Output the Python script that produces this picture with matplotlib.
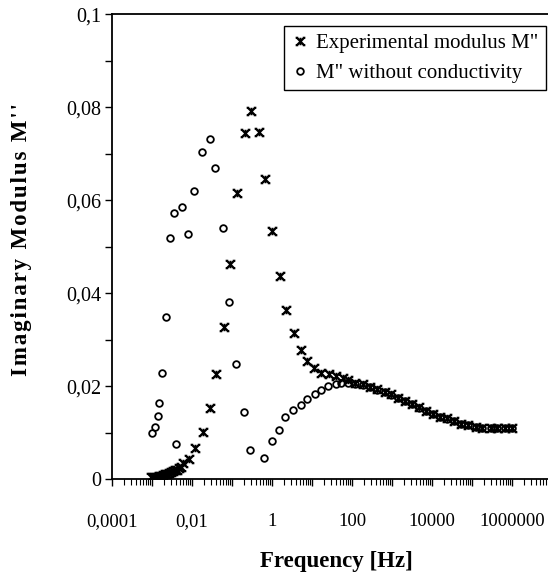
import numpy as np
import matplotlib.pyplot as plt
from matplotlib.path import Path
from matplotlib.ticker import MultipleLocator, LogLocator, FuncFormatter, NullFormatter

# data
# experimental modulus M''
exp_freq = [0.00094, 0.00105, 0.00118, 0.00132, 0.00148, 0.00166, 0.00186, 0.00209,
            0.00234, 0.00263, 0.00294, 0.0033, 0.0037, 0.00415, 0.00465, 0.0052, 0.0058,
            0.0084, 0.0121, 0.0186, 0.029, 0.040, 0.062, 0.089, 0.135, 0.214, 0.301,
            0.476, 0.670, 1.0, 1.58, 2.22, 3.5, 5.46, 7.5, 11.5, 17.1, 27, 40.3, 58.8,
            81.4, 119, 192, 281, 427, 663, 934, 1417, 2150, 3210, 4700, 7140, 10470,
            16250, 23700, 36150, 52700, 80500, 124000, 182000, 293000, 430000, 652000,
            1010000]
exp_mpp = [0.0004, 0.0005, 0.0006, 0.0006, 0.0008, 0.0008, 0.0009, 0.0011,
           0.0012, 0.0013, 0.0015, 0.0017, 0.0019, 0.0021, 0.0024, 0.0027, 0.0034,
           0.0044, 0.0068, 0.0101, 0.0153, 0.0226, 0.0327, 0.0464, 0.0616, 0.0745, 0.0792,
           0.0747, 0.0646, 0.0534, 0.0437, 0.0364, 0.0315, 0.0278, 0.0254, 0.0240, 0.0229,
           0.0226, 0.0223, 0.0217, 0.0214, 0.0208, 0.0204, 0.0199, 0.0194, 0.0188, 0.0183,
           0.0175, 0.0168, 0.0161, 0.0155, 0.0147, 0.0140, 0.0135, 0.0131, 0.0125, 0.0120,
           0.0117, 0.0113, 0.0111, 0.0111, 0.0111, 0.0111, 0.0111]

# M'' without conductivity
cond_freq = [0.00098, 0.00118, 0.0014, 0.00151, 0.00179, 0.0023, 0.00283, 0.00364,
             0.00392, 0.0056, 0.0081, 0.0114, 0.0176, 0.0274, 0.0385, 0.0609, 0.0857,
             0.128, 0.202, 0.285, 0.633, 1.0, 1.49, 2.10, 3.32, 5.24, 7.39, 11.7, 16.4,
             24.5, 38.7, 54.6, 81.4, 119, 192, 281, 427, 663, 934, 1417, 2150, 3210,
             4700, 7140, 10470, 16250, 23700, 36150, 52700, 80500, 124000, 182000,
             293000, 430000, 652000, 1010000]
cond_mpp = [0.0099, 0.0112, 0.0137, 0.0165, 0.0228, 0.0350, 0.0520, 0.0573,
            0.0075, 0.0585, 0.0528, 0.0619, 0.0703, 0.0731, 0.0670, 0.0541, 0.0382,
            0.0248, 0.0145, 0.0063, 0.0046, 0.0082, 0.0106, 0.0133, 0.0149, 0.0160,
            0.0172, 0.0183, 0.0192, 0.0201, 0.0206, 0.0208, 0.0208, 0.0205, 0.0202,
            0.0198, 0.0193, 0.0188, 0.0182, 0.0175, 0.0168, 0.0161, 0.0154, 0.0147,
            0.0140, 0.0135, 0.0130, 0.0125, 0.0120, 0.0116, 0.0113, 0.0111, 0.0111,
            0.0111, 0.0111, 0.0111]

plt.rcParams['font.family'] = ['Liberation Serif', 'DejaVu Serif']

# "ж"-like marker: X + stem + little serifs
verts = [(-1, -1), (1, 1), (-1, 1), (1, -1), (0, -1), (0, 1),
         (-1.3, 1), (-0.6, 1), (0.6, 1), (1.3, 1),
         (-1.3, -1), (-0.6, -1), (0.6, -1), (1.3, -1)]
codes = [Path.MOVETO, Path.LINETO] * 7
zh = Path(verts, codes)

fig = plt.figure(figsize=(5.48, 5.79), dpi=100)
ax = fig.add_axes([112/548, 99.7/579, 436/548, 465/579])

ax.plot(exp_freq, exp_mpp, ls='none', marker=zh, ms=7, mew=1.5, color='black',
        mfc='none', label='Experimental modulus M"')
ax.plot(cond_freq, cond_mpp, ls='none', marker='o', ms=4.8, mew=1.3, color='black',
        mfc='none', label='M" without conductivity')

ax.set_xscale('log')
ax.set_xlim(1e-4, 10**6.9)
ax.set_ylim(0, 0.1)

ax.spines['right'].set_visible(False)
for s in ['left', 'bottom', 'top']:
    ax.spines[s].set_linewidth(1.3)

ax.yaxis.set_major_locator(MultipleLocator(0.02))
ax.yaxis.set_minor_locator(MultipleLocator(0.01))
ax.yaxis.set_major_formatter(FuncFormatter(lambda v, p: ('%g' % v).replace('.', ',')))

def xfmt(v, p):
    e = int(round(np.log10(v)))
    if e % 2:
        return ''
    if e < 0:
        return ('%.*f' % (-e, v)).replace('.', ',')
    return '%d' % round(v)

ax.xaxis.set_major_locator(LogLocator(base=10, numticks=30))
ax.xaxis.set_minor_locator(LogLocator(base=10, subs=np.arange(2, 10), numticks=100))
ax.xaxis.set_major_formatter(FuncFormatter(xfmt))
ax.xaxis.set_minor_formatter(NullFormatter())

ax.tick_params(axis='y', which='both', direction='out', length=5, width=1,
               labelsize=14.5, pad=3, right=False)
ax.tick_params(axis='x', which='major', direction='out', length=5, width=1,
               labelsize=13.5, pad=19, top=False)
ax.tick_params(axis='x', which='minor', direction='out', length=4, width=0.8, top=False)

fig.text(336/548, 1 - 562/579, 'Frequency [Hz]', fontsize=16.5, fontweight='bold',
         ha='center', va='center')
ylab = '\u200a'.join("Imaginary Modulus M''")
fig.text(22/548, 1 - 240/579, ylab, fontsize=16.5, fontweight='bold', rotation=90,
         ha='center', va='center')

leg = ax.legend(loc='upper right', bbox_to_anchor=(0.995, 0.975), borderaxespad=0,
                frameon=True, fancybox=False, edgecolor='black', framealpha=1,
                fontsize=15, handlelength=0.8, handletextpad=0.4, borderpad=0.35,
                labelspacing=0.5)
leg.get_frame().set_linewidth(1.0)

fig.savefig('out.png', dpi=100)
